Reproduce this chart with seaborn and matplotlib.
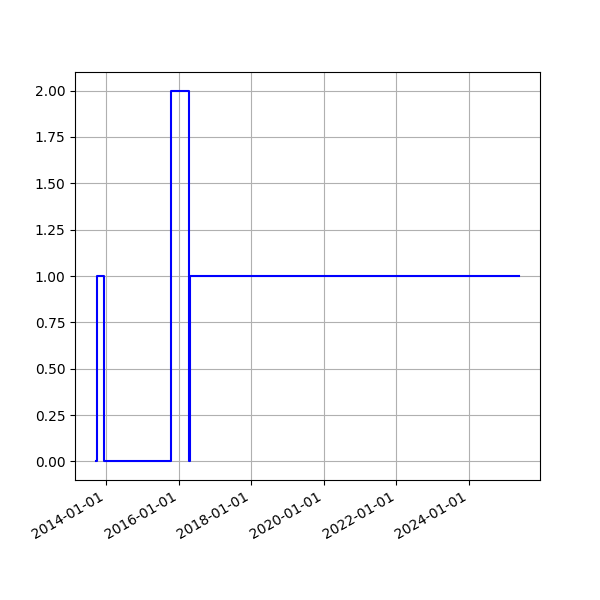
import pandas as pd
import matplotlib
matplotlib.use("Agg")
import matplotlib.pyplot as plt
import matplotlib.dates as mdates
import seaborn as sns

# Step series
dates = ["2013-09-20", "2013-10-01", "2013-12-10", "2015-10-12",
         "2016-04-14", "2016-04-25", "2025-05-20"]
values = [0, 1, 0, 2, 0, 1, 1]

df = pd.DataFrame({"date": pd.to_datetime(dates), "value": values})

fig, ax = plt.subplots(figsize=(6, 6), dpi=100)
sns.lineplot(x="date", y="value", data=df, ax=ax, color="blue",
             drawstyle="steps-post", linewidth=1.5)
ax.set_xlabel("")
ax.set_ylabel("")
ax.grid(True)
ax.xaxis.set_major_locator(mdates.YearLocator(2))
ax.xaxis.set_major_formatter(mdates.DateFormatter("%Y-%m-%d"))
fig.autofmt_xdate()
fig.savefig("out.png")
